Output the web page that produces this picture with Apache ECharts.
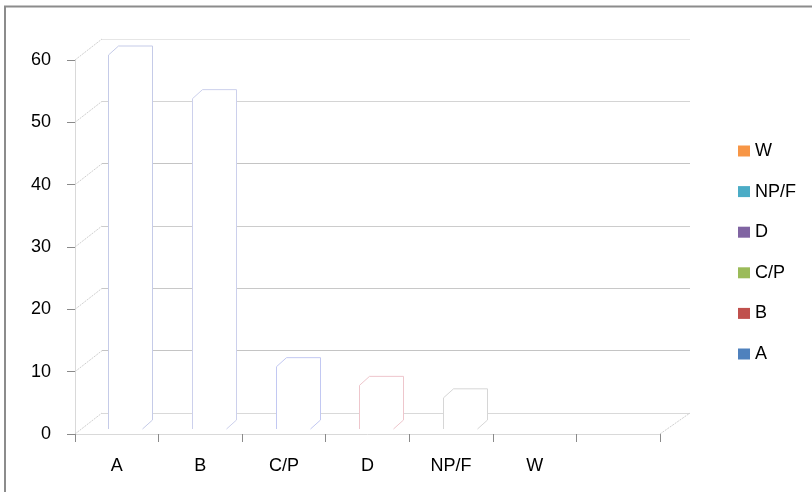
<!DOCTYPE html>
<html>
<head>
<meta charset="utf-8">
<script src="https://cdn.jsdelivr.net/npm/echarts@6/dist/echarts.min.js"></script>
<style>
html,body{margin:0;padding:0;background:#fff;}
#chart{width:812px;height:492px;}
</style>
</head>
<body>
<div id="chart"></div>
<script>
// ---- data ----
var categories = ['A', 'B', 'C/P', 'D', 'NP/F', 'W', ''];
var seriesNames = ['A', 'B', 'C/P', 'D', 'NP/F', 'W'];
var seriesValues = [60, 53, 10, 7, 5, 0];
var seriesColors = ['#4F81BD', '#C0504D', '#9BBB59', '#8064A2', '#4BACC6', '#F79646'];
var edgeColors = ['#c5cbe8', '#ccd0ec', '#c2c8f2', '#eec6cc', '#d6d6d6', '#dddddd'];
var yTicks = [0, 10, 20, 30, 40, 50, 60];

var FONT = 'Liberation Sans';
var chart = echarts.init(document.getElementById('chart'));

function barRender(params, api) {
  var idx = api.value(0), v = api.value(1);
  var p0 = api.coord([idx, 0]);
  var p1 = api.coord([idx, v]);
  var band = api.size([1, 0])[0];
  if (!(v > 0)) return { type: 'group', children: [] };
  var x0 = Math.round(p0[0] - band / 2 + band * 0.40) + 0.5;
  var x1 = x0 + Math.round(band * 0.41);
  var yb = p0[1] - 5, yt = p1[1] - 5;
  var dx = 10, dy = -9;
  var pts = [[x0, yb], [x0, yt], [x0 + dx, yt + dy], [x1 + dx, yt + dy], [x1 + dx, yb + dy], [x1, yb]];
  var ec = edgeColors[params.seriesIndex];
  return {
    type: 'group',
    children: [
      { type: 'polygon', shape: { points: pts }, style: { fill: '#ffffff', stroke: null } },
      { type: 'polyline', shape: { points: pts }, style: { fill: null, stroke: ec, lineWidth: 1 } }
    ]
  };
}

var series = [];
for (var i = 0; i < seriesNames.length; i++) {
  series.push({
    name: seriesNames[i],
    type: 'custom',
    xAxisIndex: 0, yAxisIndex: 0,
    itemStyle: { color: seriesColors[i] },
    renderItem: barRender,
    clip: false,
    silent: true,
    z: 5,
    data: [[i, seriesValues[i]]]
  });
}

// side wall diagonals
series.push({
  type: 'custom',
  xAxisIndex: 0, yAxisIndex: 0,
  silent: true,
  clip: false,
  z: 3,
  renderItem: function (params, api) {
    var v = api.value(1);
    var p = api.coord([0, v]);
    var band = api.size([1, 0])[0];
    var x = p[0] - band / 2;
    return {
      type: 'line',
      shape: { x1: x, y1: p[1], x2: x + 27, y2: p[1] - 21 },
      style: { stroke: '#cfcfcf', lineWidth: 1, lineDash: [2, 1] }
    };
  },
  data: yTicks.map(function (t) { return [0, t]; })
});

// floor right diagonal
series.push({
  type: 'custom',
  xAxisIndex: 0, yAxisIndex: 0,
  silent: true,
  clip: false,
  z: 3,
  renderItem: function (params, api) {
    var p = api.coord([api.value(0), 0]);
    var band = api.size([1, 0])[0];
    var x = p[0] + band / 2;
    return {
      type: 'line',
      shape: { x1: x, y1: p[1], x2: x + 30, y2: p[1] - 21 },
      style: { stroke: '#cfcfcf', lineWidth: 1, lineDash: [2, 1] }
    };
  },
  data: [[categories.length - 1, 0]]
});

// back wall placeholder series so the back axes render
series.push({
  type: 'line',
  xAxisIndex: 1, yAxisIndex: 1,
  data: [],
  silent: true
});

var option = {
  animation: false,
  backgroundColor: '#ffffff',
  graphic: [{
    type: 'rect',
    shape: { x: 5, y: 6.5, width: 1000, height: 800 },
    style: { fill: null, stroke: '#8c8c8c', lineWidth: 2 },
    silent: true,
    z: 100
  }],
  grid: [
    { left: 75, right: 152, top: 60, bottom: 58 },
    { left: 102, right: 122, top: 39, bottom: 79 }
  ],
  legend: {
    data: seriesNames.slice().reverse(),
    orient: 'vertical',
    left: 738,
    top: 142,
    padding: 0,
    itemWidth: 12,
    itemHeight: 11,
    itemGap: 22.6,
    icon: 'rect',
    selectedMode: false,
    textStyle: { fontFamily: FONT, fontSize: 18, color: '#000' }
  },
  xAxis: [
    {
      type: 'category',
      gridIndex: 0,
      data: categories,
      boundaryGap: true,
      axisLine: { lineStyle: { color: '#d9d9d9', width: 1 } },
      axisTick: { show: true, length: 8, lineStyle: { color: '#8a8a8a' } },
      axisLabel: { fontFamily: FONT, fontSize: 18, color: '#000', margin: 23 },
      splitLine: { show: false }
    },
    {
      type: 'category',
      gridIndex: 1,
      data: categories,
      show: false
    }
  ],
  yAxis: [
    {
      type: 'value',
      gridIndex: 0,
      min: 0, max: 60, interval: 10,
      axisLine: { show: true, lineStyle: { color: '#d9d9d9', width: 1 } },
      axisTick: { show: true, length: 8, lineStyle: { color: '#8a8a8a' } },
      axisLabel: { fontFamily: FONT, fontSize: 18, color: '#000', margin: 24 },
      splitLine: { show: false }
    },
    {
      type: 'value',
      gridIndex: 1,
      min: 0, max: 60, interval: 10,
      axisLine: { show: false },
      axisTick: { show: false },
      axisLabel: { show: false },
      splitLine: {
        show: true,
        lineStyle: {
          color: ['#d9d9d9', '#c4c4c4', '#c8c8c8', '#cccccc', '#c4c4c4', '#d4d4d4', '#e6e6e6'],
          width: 1
        }
      }
    }
  ],
  series: series
};
chart.setOption(option);
</script>
</body>
</html>
